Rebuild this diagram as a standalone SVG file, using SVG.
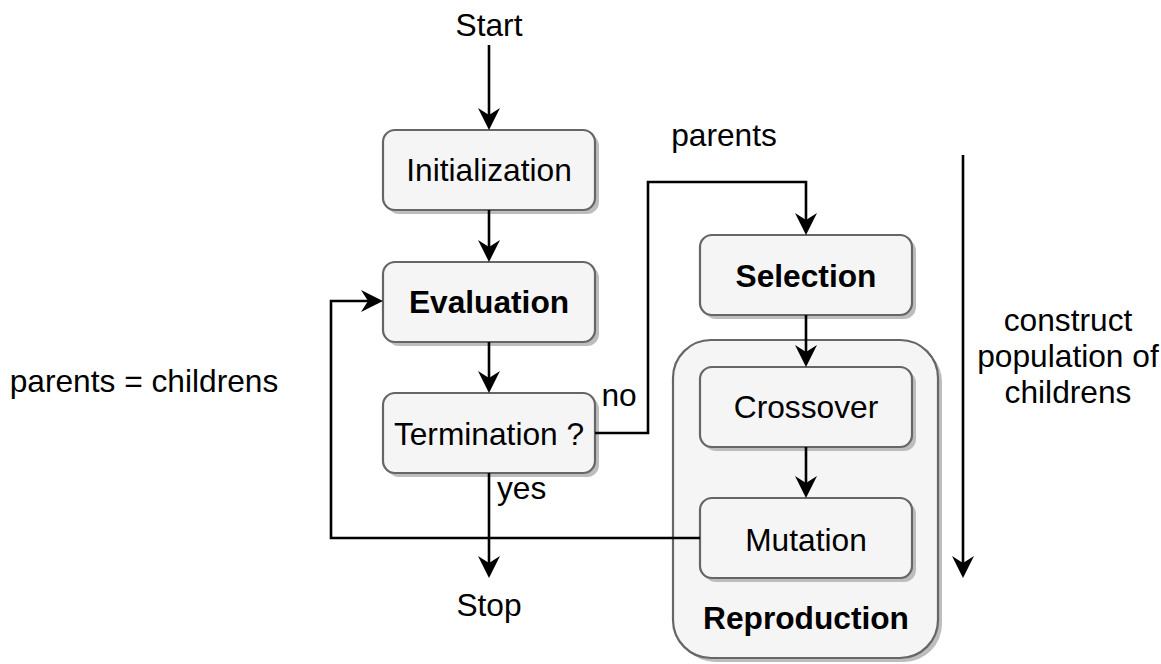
<svg xmlns="http://www.w3.org/2000/svg" width="1161" height="664" viewBox="0 0 1161 664">
<style>
.box{fill:#f5f5f5;stroke:#666666;stroke-width:2.2}
.sh{fill:#bdbdbd;stroke:none}
.t{font-family:"Liberation Sans",Arial,sans-serif;font-size:31.7px;fill:#000;text-anchor:middle}
.b{font-weight:bold}
.c{fill:none;stroke:#000;stroke-width:2.6}
</style>
<defs>
<marker id="arr" viewBox="0 0 22 22" refX="10" refY="11" markerWidth="22" markerHeight="22" orient="auto" markerUnits="userSpaceOnUse">
<path d="M0,0 L22,11 L0,22 L7,11 Z" fill="#000"/>
</marker>
</defs>
<rect width="1161" height="664" fill="#ffffff"/>

<g id="reproduction">
<rect class="sh" x="677" y="344" width="265" height="318" rx="38"/>
<rect class="box" x="673" y="340" width="265" height="318" rx="38"/>
<text class="t b" x="806" y="629">Reproduction</text>
</g>

<g id="initialization">
<rect class="sh" x="387" y="134" width="212" height="80" rx="12"/>
<rect class="box" x="383" y="130" width="212" height="80" rx="12"/>
<text class="t" x="489" y="181">Initialization</text>
</g>
<g id="evaluation">
<rect class="sh" x="387" y="266" width="212" height="80" rx="12"/>
<rect class="box" x="383" y="262" width="212" height="80" rx="12"/>
<text class="t b" x="489" y="313">Evaluation</text>
</g>
<g id="termination">
<rect class="sh" x="387" y="397" width="212" height="80" rx="12"/>
<rect class="box" x="383" y="393" width="212" height="80" rx="12"/>
<text class="t" x="489" y="445">Termination ?</text>
</g>
<g id="selection">
<rect class="sh" x="704" y="239" width="212" height="80" rx="12"/>
<rect class="box" x="700" y="235" width="212" height="80" rx="12"/>
<text class="t b" x="806" y="287">Selection</text>
</g>
<g id="crossover">
<rect class="sh" x="704" y="371" width="212" height="80" rx="12"/>
<rect class="box" x="700" y="367" width="212" height="80" rx="12"/>
<text class="t" x="806" y="418">Crossover</text>
</g>
<g id="mutation">
<rect class="sh" x="704" y="502" width="212" height="80" rx="12"/>
<rect class="box" x="700" y="498" width="212" height="80" rx="12"/>
<text class="t" x="806" y="551">Mutation</text>
</g>

<g id="start"><text class="t" x="489" y="36">Start</text></g>
<g id="stop"><text class="t" x="489" y="616">Stop</text></g>

<g id="connectors">
<path class="c" d="M489,45 V118" marker-end="url(#arr)"/>
<path class="c" d="M489,210 V250" marker-end="url(#arr)"/>
<path class="c" d="M489,342 V381" marker-end="url(#arr)"/>
<path class="c" d="M489,473 V566" marker-end="url(#arr)"/>
<path class="c" d="M595,433 H648 V182 H806 V223" marker-end="url(#arr)"/>
<path class="c" d="M806,315 V355" marker-end="url(#arr)"/>
<path class="c" d="M806,447 V486" marker-end="url(#arr)"/>
<path class="c" d="M700,538 H331 V301 H371" marker-end="url(#arr)"/>
<path class="c" d="M963,155 V566" marker-end="url(#arr)"/>
</g>

<g id="labels">
<text class="t" x="619" y="406">no</text>
<text class="t" x="497" y="499" style="text-anchor:start">yes</text>
<text class="t" x="724" y="146">parents</text>
<text class="t" x="144" y="392">parents = childrens</text>
<text class="t" x="1068" y="331">construct</text>
<text class="t" x="1068" y="367">population of</text>
<text class="t" x="1068" y="403">childrens</text>
</g>
</svg>
